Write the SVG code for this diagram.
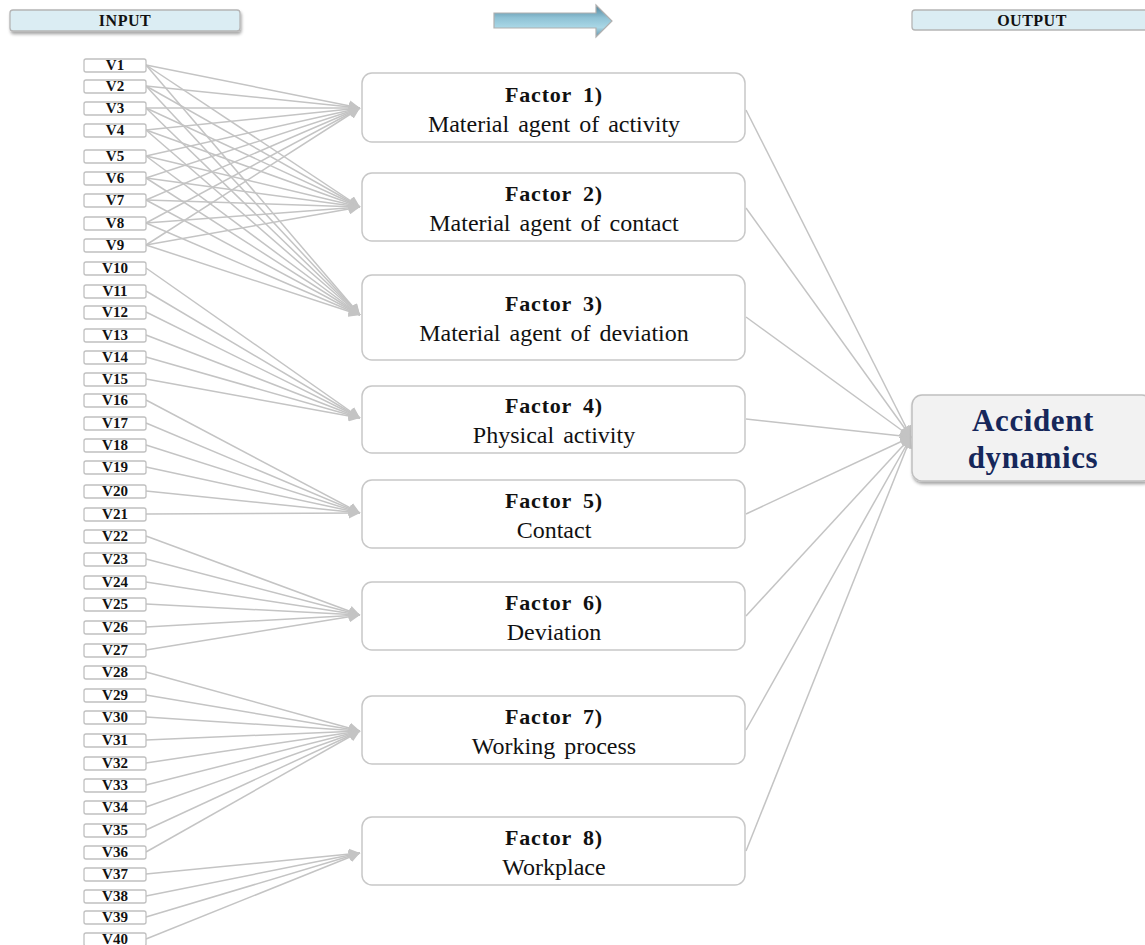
<svg xmlns="http://www.w3.org/2000/svg" width="1145" height="945" viewBox="0 0 1145 945">
<defs>
<style>
.vbox{fill:#fff;stroke:#c0c0c0;stroke-width:1.3}
.vtxt{font-family:"Liberation Serif","Times New Roman",serif;font-weight:bold;font-size:15px;fill:#111;text-anchor:middle}
.fbox{fill:#fff;stroke:#c8c8c8;stroke-width:1.5}
.fh{font-family:"Liberation Serif","Times New Roman",serif;font-weight:bold;font-size:22px;fill:#111;text-anchor:middle;letter-spacing:0.8px;word-spacing:5px}
.fs{font-family:"Liberation Serif","Times New Roman",serif;font-size:24px;fill:#111;text-anchor:middle;word-spacing:3px}
.hdr{fill:#dbedf3;stroke:#b5b5b5;stroke-width:1.3}
.htxt{font-family:"Liberation Serif","Times New Roman",serif;font-weight:bold;font-size:16px;fill:#111;text-anchor:middle;letter-spacing:0.5px}
.conn line{stroke:#c4c4c4;stroke-width:1.5;marker-end:url(#ah)}
.out line{stroke:#c4c4c4;stroke-width:1.5;marker-end:url(#ah)}
.acc{font-family:"Liberation Serif","Times New Roman",serif;font-weight:bold;font-size:31px;fill:#16275a;text-anchor:middle;letter-spacing:0.6px}
</style>
<marker id="ah" viewBox="0 0 10 10" refX="10" refY="5" markerWidth="11" markerHeight="11" markerUnits="userSpaceOnUse" orient="auto">
<path d="M0,0 L10,5 L0,10 z" fill="#c4c4c4"/>
</marker>
<filter id="sh" x="-10%" y="-30%" width="120%" height="170%">
<feDropShadow dx="1" dy="2.5" stdDeviation="1.6" flood-color="#000" flood-opacity="0.35"/>
</filter>
<linearGradient id="ag" x1="0" y1="0" x2="0" y2="1">
<stop offset="0" stop-color="#4f8198"/>
<stop offset="0.4" stop-color="#8fc2d5"/>
<stop offset="0.7" stop-color="#a9d7e6"/>
<stop offset="1" stop-color="#5f91a8"/>
</linearGradient>
</defs>
<rect width="1145" height="945" fill="#fff"/>

<g id="header-input">
<rect class="hdr" x="10" y="10" width="230" height="21" rx="3" filter="url(#sh)"/>
<text class="htxt" x="125" y="26">INPUT</text>
</g>
<g id="header-arrow">
<polygon points="494,13 596,13 596,5 612,21 596,37 596,28 494,28" fill="url(#ag)" stroke="#b0b0b0" stroke-width="1.2"/>
</g>
<g id="header-output">
<rect class="hdr" x="912" y="10" width="240" height="20" rx="3"/>
<text class="htxt" x="1032" y="26">OUTPUT</text>
</g>

<g id="connectors">
<g class="conn">
<line x1="146" y1="65" x2="360" y2="108"/><line x1="146" y1="65" x2="360" y2="207"/><line x1="146" y1="65" x2="360" y2="315"/>
<line x1="146" y1="86" x2="360" y2="108"/><line x1="146" y1="86" x2="360" y2="207"/><line x1="146" y1="86" x2="360" y2="315"/>
<line x1="146" y1="108" x2="360" y2="108"/><line x1="146" y1="108" x2="360" y2="207"/><line x1="146" y1="108" x2="360" y2="315"/>
<line x1="146" y1="130" x2="360" y2="108"/><line x1="146" y1="130" x2="360" y2="207"/><line x1="146" y1="130" x2="360" y2="315"/>
<line x1="146" y1="156" x2="360" y2="108"/><line x1="146" y1="156" x2="360" y2="207"/><line x1="146" y1="156" x2="360" y2="315"/>
<line x1="146" y1="178" x2="360" y2="108"/><line x1="146" y1="178" x2="360" y2="207"/><line x1="146" y1="178" x2="360" y2="315"/>
<line x1="146" y1="200" x2="360" y2="108"/><line x1="146" y1="200" x2="360" y2="207"/><line x1="146" y1="200" x2="360" y2="315"/>
<line x1="146" y1="223" x2="360" y2="108"/><line x1="146" y1="223" x2="360" y2="207"/><line x1="146" y1="223" x2="360" y2="315"/>
<line x1="146" y1="245" x2="360" y2="108"/><line x1="146" y1="245" x2="360" y2="207"/><line x1="146" y1="245" x2="360" y2="315"/>
<line x1="146" y1="268" x2="360" y2="418"/><line x1="146" y1="291" x2="360" y2="418"/><line x1="146" y1="312" x2="360" y2="418"/>
<line x1="146" y1="335" x2="360" y2="418"/><line x1="146" y1="357" x2="360" y2="418"/><line x1="146" y1="379" x2="360" y2="418"/>
<line x1="146" y1="400" x2="360" y2="513"/><line x1="146" y1="423" x2="360" y2="513"/><line x1="146" y1="445" x2="360" y2="513"/>
<line x1="146" y1="467" x2="360" y2="513"/><line x1="146" y1="491" x2="360" y2="513"/><line x1="146" y1="514" x2="360" y2="513"/>
<line x1="146" y1="536" x2="360" y2="615"/><line x1="146" y1="559" x2="360" y2="615"/><line x1="146" y1="582" x2="360" y2="615"/>
<line x1="146" y1="604" x2="360" y2="615"/><line x1="146" y1="627" x2="360" y2="615"/><line x1="146" y1="650" x2="360" y2="615"/>
<line x1="146" y1="672" x2="360" y2="731"/><line x1="146" y1="695" x2="360" y2="731"/><line x1="146" y1="717" x2="360" y2="731"/>
<line x1="146" y1="740" x2="360" y2="731"/><line x1="146" y1="763" x2="360" y2="731"/><line x1="146" y1="785" x2="360" y2="731"/>
<line x1="146" y1="807" x2="360" y2="731"/><line x1="146" y1="830" x2="360" y2="731"/><line x1="146" y1="852" x2="360" y2="731"/>
<line x1="146" y1="874" x2="360" y2="853"/><line x1="146" y1="896" x2="360" y2="853"/><line x1="146" y1="917" x2="360" y2="853"/>
<line x1="146" y1="939" x2="360" y2="853"/>
</g>
<g class="out">
<line x1="746" y1="110" x2="911" y2="437"/>
<line x1="746" y1="208" x2="911" y2="437"/>
<line x1="746" y1="317" x2="911" y2="437"/>
<line x1="746" y1="419" x2="911" y2="437"/>
<line x1="746" y1="514" x2="911" y2="437"/>
<line x1="746" y1="616" x2="911" y2="437"/>
<line x1="746" y1="730" x2="911" y2="437"/>
<line x1="746" y1="851" x2="911" y2="437"/>
</g>
</g>

<g id="inputs">
<g id="v1"><rect class="vbox" x="84" y="59" width="62" height="13" rx="2"/><text class="vtxt" x="115" y="70">V1</text></g>
<g id="v2"><rect class="vbox" x="84" y="80" width="62" height="13" rx="2"/><text class="vtxt" x="115" y="91">V2</text></g>
<g id="v3"><rect class="vbox" x="84" y="102" width="62" height="13" rx="2"/><text class="vtxt" x="115" y="113">V3</text></g>
<g id="v4"><rect class="vbox" x="84" y="124" width="62" height="13" rx="2"/><text class="vtxt" x="115" y="135">V4</text></g>
<g id="v5"><rect class="vbox" x="84" y="150" width="62" height="13" rx="2"/><text class="vtxt" x="115" y="161">V5</text></g>
<g id="v6"><rect class="vbox" x="84" y="172" width="62" height="13" rx="2"/><text class="vtxt" x="115" y="183">V6</text></g>
<g id="v7"><rect class="vbox" x="84" y="194" width="62" height="13" rx="2"/><text class="vtxt" x="115" y="205">V7</text></g>
<g id="v8"><rect class="vbox" x="84" y="217" width="62" height="13" rx="2"/><text class="vtxt" x="115" y="228">V8</text></g>
<g id="v9"><rect class="vbox" x="84" y="239" width="62" height="13" rx="2"/><text class="vtxt" x="115" y="250">V9</text></g>
<g id="v10"><rect class="vbox" x="84" y="262" width="62" height="13" rx="2"/><text class="vtxt" x="115" y="273">V10</text></g>
<g id="v11"><rect class="vbox" x="84" y="285" width="62" height="13" rx="2"/><text class="vtxt" x="115" y="296">V11</text></g>
<g id="v12"><rect class="vbox" x="84" y="306" width="62" height="13" rx="2"/><text class="vtxt" x="115" y="317">V12</text></g>
<g id="v13"><rect class="vbox" x="84" y="329" width="62" height="13" rx="2"/><text class="vtxt" x="115" y="340">V13</text></g>
<g id="v14"><rect class="vbox" x="84" y="351" width="62" height="13" rx="2"/><text class="vtxt" x="115" y="362">V14</text></g>
<g id="v15"><rect class="vbox" x="84" y="373" width="62" height="13" rx="2"/><text class="vtxt" x="115" y="384">V15</text></g>
<g id="v16"><rect class="vbox" x="84" y="394" width="62" height="13" rx="2"/><text class="vtxt" x="115" y="405">V16</text></g>
<g id="v17"><rect class="vbox" x="84" y="417" width="62" height="13" rx="2"/><text class="vtxt" x="115" y="428">V17</text></g>
<g id="v18"><rect class="vbox" x="84" y="439" width="62" height="13" rx="2"/><text class="vtxt" x="115" y="450">V18</text></g>
<g id="v19"><rect class="vbox" x="84" y="461" width="62" height="13" rx="2"/><text class="vtxt" x="115" y="472">V19</text></g>
<g id="v20"><rect class="vbox" x="84" y="485" width="62" height="13" rx="2"/><text class="vtxt" x="115" y="496">V20</text></g>
<g id="v21"><rect class="vbox" x="84" y="508" width="62" height="13" rx="2"/><text class="vtxt" x="115" y="519">V21</text></g>
<g id="v22"><rect class="vbox" x="84" y="530" width="62" height="13" rx="2"/><text class="vtxt" x="115" y="541">V22</text></g>
<g id="v23"><rect class="vbox" x="84" y="553" width="62" height="13" rx="2"/><text class="vtxt" x="115" y="564">V23</text></g>
<g id="v24"><rect class="vbox" x="84" y="576" width="62" height="13" rx="2"/><text class="vtxt" x="115" y="587">V24</text></g>
<g id="v25"><rect class="vbox" x="84" y="598" width="62" height="13" rx="2"/><text class="vtxt" x="115" y="609">V25</text></g>
<g id="v26"><rect class="vbox" x="84" y="621" width="62" height="13" rx="2"/><text class="vtxt" x="115" y="632">V26</text></g>
<g id="v27"><rect class="vbox" x="84" y="644" width="62" height="13" rx="2"/><text class="vtxt" x="115" y="655">V27</text></g>
<g id="v28"><rect class="vbox" x="84" y="666" width="62" height="13" rx="2"/><text class="vtxt" x="115" y="677">V28</text></g>
<g id="v29"><rect class="vbox" x="84" y="689" width="62" height="13" rx="2"/><text class="vtxt" x="115" y="700">V29</text></g>
<g id="v30"><rect class="vbox" x="84" y="711" width="62" height="13" rx="2"/><text class="vtxt" x="115" y="722">V30</text></g>
<g id="v31"><rect class="vbox" x="84" y="734" width="62" height="13" rx="2"/><text class="vtxt" x="115" y="745">V31</text></g>
<g id="v32"><rect class="vbox" x="84" y="757" width="62" height="13" rx="2"/><text class="vtxt" x="115" y="768">V32</text></g>
<g id="v33"><rect class="vbox" x="84" y="779" width="62" height="13" rx="2"/><text class="vtxt" x="115" y="790">V33</text></g>
<g id="v34"><rect class="vbox" x="84" y="801" width="62" height="13" rx="2"/><text class="vtxt" x="115" y="812">V34</text></g>
<g id="v35"><rect class="vbox" x="84" y="824" width="62" height="13" rx="2"/><text class="vtxt" x="115" y="835">V35</text></g>
<g id="v36"><rect class="vbox" x="84" y="846" width="62" height="13" rx="2"/><text class="vtxt" x="115" y="857">V36</text></g>
<g id="v37"><rect class="vbox" x="84" y="868" width="62" height="13" rx="2"/><text class="vtxt" x="115" y="879">V37</text></g>
<g id="v38"><rect class="vbox" x="84" y="890" width="62" height="13" rx="2"/><text class="vtxt" x="115" y="901">V38</text></g>
<g id="v39"><rect class="vbox" x="84" y="911" width="62" height="13" rx="2"/><text class="vtxt" x="115" y="922">V39</text></g>
<g id="v40"><rect class="vbox" x="84" y="933" width="62" height="13" rx="2"/><text class="vtxt" x="115" y="944">V40</text></g>
</g>

<g id="factors">
<g id="factor1"><rect class="fbox" x="362" y="73" width="383" height="69" rx="10"/><text class="fh" x="554" y="102">Factor 1)</text><text class="fs" x="554" y="132">Material agent of activity</text></g>
<g id="factor2"><rect class="fbox" x="362" y="173" width="383" height="68" rx="10"/><text class="fh" x="554" y="201">Factor 2)</text><text class="fs" x="554" y="231">Material agent of contact</text></g>
<g id="factor3"><rect class="fbox" x="362" y="275" width="383" height="85" rx="10"/><text class="fh" x="554" y="311">Factor 3)</text><text class="fs" x="554" y="341">Material agent of deviation</text></g>
<g id="factor4"><rect class="fbox" x="362" y="386" width="383" height="67" rx="10"/><text class="fh" x="554" y="413">Factor 4)</text><text class="fs" x="554" y="443">Physical activity</text></g>
<g id="factor5"><rect class="fbox" x="362" y="480" width="383" height="68" rx="10"/><text class="fh" x="554" y="508">Factor 5)</text><text class="fs" x="554" y="538">Contact</text></g>
<g id="factor6"><rect class="fbox" x="362" y="582" width="383" height="68" rx="10"/><text class="fh" x="554" y="610">Factor 6)</text><text class="fs" x="554" y="640">Deviation</text></g>
<g id="factor7"><rect class="fbox" x="362" y="696" width="383" height="68" rx="10"/><text class="fh" x="554" y="724">Factor 7)</text><text class="fs" x="554" y="754">Working process</text></g>
<g id="factor8"><rect class="fbox" x="362" y="817" width="383" height="68" rx="10"/><text class="fh" x="554" y="845">Factor 8)</text><text class="fs" x="554" y="875">Workplace</text></g>
</g>

<g id="output">
<rect x="912" y="395" width="240" height="86" rx="10" fill="#f2f2f2" stroke="#c0c0c0" stroke-width="1.5" filter="url(#sh)"/>
<text class="acc" x="1033" y="431">Accident</text>
<text class="acc" x="1033" y="468">dynamics</text>
</g>
</svg>
